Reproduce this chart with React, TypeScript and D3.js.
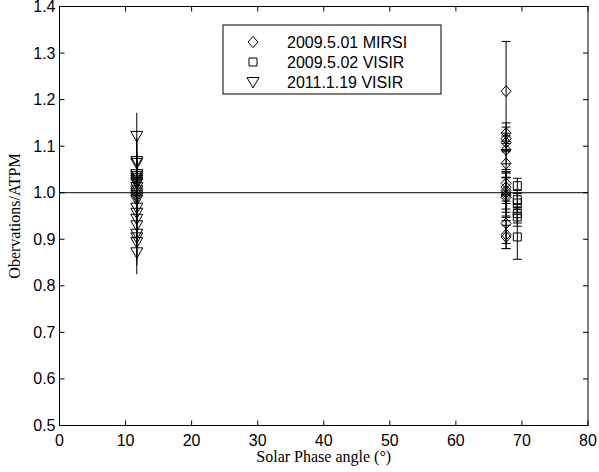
import React from 'react';
import * as d3 from 'd3';

const xTicks = [0, 10, 20, 30, 40, 50, 60, 70, 80];
const yTicks = [0.5, 0.6, 0.7, 0.8, 0.9, 1.0, 1.1, 1.2, 1.3, 1.4];

const mirsiPhase = 67.6;
const mirsiRatio = [1.218, 1.128, 1.116, 1.108, 1.092, 1.063, 1.02, 1.012, 1.005, 1.0, 0.995, 0.99, 0.934, 0.91, 0.905];
const mirsiErr = [0.107, 0.022, 0.025, 0.02, 0.03, 0.03, 0.025, 0.03, 0.04, 0.05, 0.037, 0.043, 0.043, 0.03, 0.025];

const visirPhase = 69.3;
const visirRatio = [1.015, 0.985, 0.978, 0.955, 0.948, 0.905];
const visirErr = [0.016, 0.02, 0.02, 0.02, 0.02, 0.048];

const visir11Phase = 11.7;
const visir11Ratio = [1.122, 1.068, 1.064, 1.04, 1.036, 1.032, 1.028, 1.024, 1.02, 1.012, 1.005, 1.0, 0.995, 0.99, 0.985, 0.968, 0.957, 0.944, 0.93, 0.912, 0.904, 0.894, 0.872];
const visir11Err = [0.05, 0.05, 0.05, 0.05, 0.05, 0.05, 0.05, 0.05, 0.05, 0.05, 0.05, 0.05, 0.05, 0.05, 0.05, 0.05, 0.05, 0.05, 0.05, 0.05, 0.05, 0.05, 0.047];

const legendLabels = ['2009.5.01 MIRSI', '2009.5.02 VISIR', '2011.1.19 VISIR'];

const W = 599, H = 472;
const L = 59.5, R = 588, T = 6.5, B = 425.5;

const x = d3.scaleLinear().domain([0, 80]).range([L, R]);
const y = d3.scaleLinear().domain([0.5, 1.4]).range([B, T]);

const diamond = (cx: number, cy: number) => `M${cx},${cy - 5.5}L${cx + 5},${cy}L${cx},${cy + 5.5}L${cx - 5},${cy}Z`;
const square = (cx: number, cy: number) => `M${cx - 4},${cy - 4}h8v8h-8Z`;
const triDown = (cx: number, cy: number) => `M${cx - 6},${cy - 4.5}L${cx + 6},${cy - 4.5}L${cx},${cy + 6}Z`;

export default function App() {
  const sans = 'Liberation Sans, Arial, sans-serif';
  const serif = 'Liberation Serif, Times New Roman, serif';
  const series = [
    { phase: mirsiPhase, vals: mirsiRatio, errs: mirsiErr, shape: diamond, cap: true },
    { phase: visirPhase, vals: visirRatio, errs: visirErr, shape: square, cap: true },
    { phase: visir11Phase, vals: visir11Ratio, errs: visir11Err, shape: triDown, cap: false },
  ];
  const shapes = [diamond, square, triDown];
  return (
    <svg width={W} height={H} style={{ position: 'absolute', left: 0, top: 0, background: '#fff' }}>
      <rect x={0} y={0} width={W} height={H} fill="#fff" />
      <line x1={x(0)} x2={x(80)} y1={y(1)} y2={y(1)} stroke="#000" strokeWidth={1} />
      {series.map((s, si) => (
        <g key={si}>
          {s.vals.map((v, i) => {
            const cx = x(s.phase);
            const y1 = y(v + s.errs[i]);
            const y2 = y(v - s.errs[i]);
            return (
              <g key={i}>
                <line x1={cx} x2={cx} y1={y1} y2={y2} stroke="#000" strokeWidth={1} />
                {s.cap && (
                  <>
                    <line x1={cx - 4.5} x2={cx + 4.5} y1={y1} y2={y1} stroke="#000" strokeWidth={1} />
                    <line x1={cx - 4.5} x2={cx + 4.5} y1={y2} y2={y2} stroke="#000" strokeWidth={1} />
                  </>
                )}
              </g>
            );
          })}
          {s.vals.map((v, i) => (
            <path key={'m' + i} d={s.shape(x(s.phase), y(v))} fill="none" stroke="#000" strokeWidth={1} />
          ))}
        </g>
      ))}
      <rect x={L} y={T} width={R - L} height={B - T} fill="none" stroke="#000" strokeWidth={1} />
      {xTicks.map((t) => (
        <g key={'x' + t}>
          <line x1={x(t)} x2={x(t)} y1={B} y2={B - 5} stroke="#000" />
          <line x1={x(t)} x2={x(t)} y1={T} y2={T + 5} stroke="#000" />
          <text x={x(t)} y={B + 20} textAnchor="middle" fontFamily={sans} fontSize={16} fill="#000">{t}</text>
        </g>
      ))}
      {yTicks.map((t) => (
        <g key={'y' + t}>
          <line x1={L} x2={L + 5} y1={y(t)} y2={y(t)} stroke="#000" />
          <line x1={R} x2={R - 5} y1={y(t)} y2={y(t)} stroke="#000" />
          <text x={L - 4} y={y(t) + 5.5} textAnchor="end" fontFamily={sans} fontSize={16} fill="#000">{t.toFixed(1)}</text>
        </g>
      ))}
      <text x={(L + R) / 2} y={462} textAnchor="middle" fontFamily={serif} fontSize={16} fill="#000">Solar Phase angle (°)</text>
      <text transform={`translate(20,${(T + B) / 2}) rotate(-90)`} textAnchor="middle" fontFamily={serif} fontSize={16} fill="#000">Obervations/ATPM</text>
      <rect x={223} y={25} width={218} height={69} fill="#fff" stroke="#000" strokeWidth={1} />
      {legendLabels.map((lab, i) => (
        <g key={lab}>
          <path d={shapes[i](253, 42 + i * 20)} fill="none" stroke="#000" strokeWidth={1} />
          <text x={287} y={48 + i * 20} fontFamily={sans} fontSize={16} fill="#000">{lab}</text>
        </g>
      ))}
    </svg>
  );
}
